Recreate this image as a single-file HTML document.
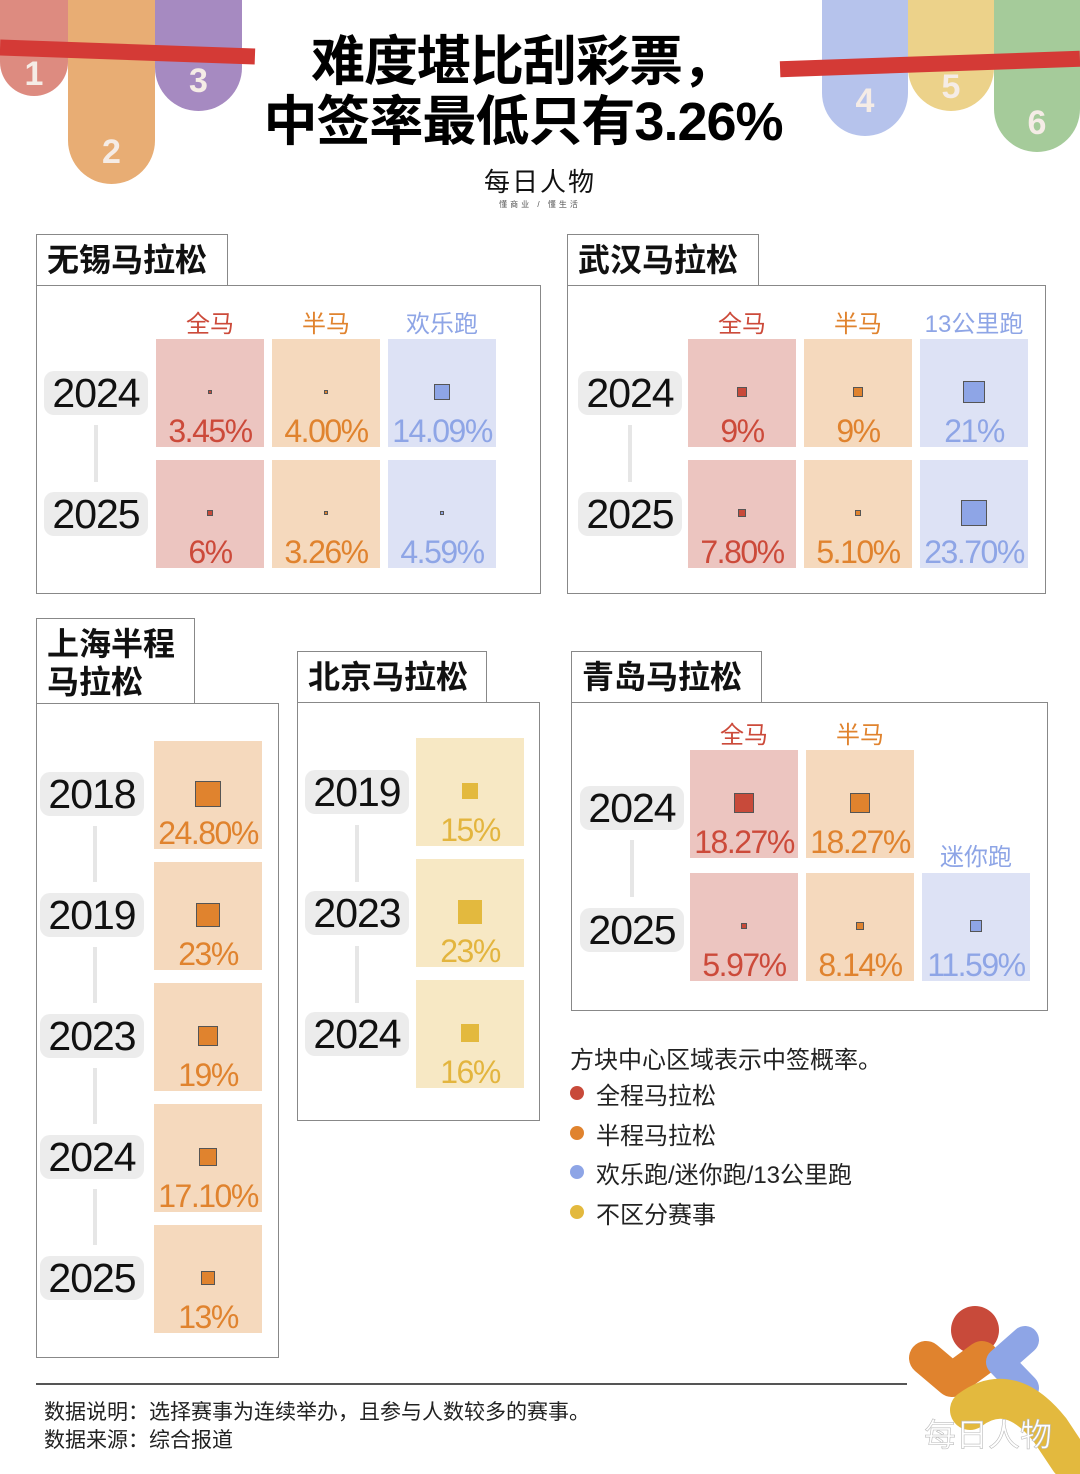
<!DOCTYPE html>
<html><head><meta charset="utf-8"><style>
*{margin:0;padding:0;box-sizing:border-box}
body{width:1080px;height:1474px;background:#fff;position:relative;overflow:hidden;font-family:"Liberation Sans","Noto Sans CJK SC",sans-serif}
.a{position:absolute}
.tbox{position:absolute;border:1.5px solid #888;border-bottom:none;background:#fff;font-weight:bold;font-size:32px;line-height:38px;padding:6px 10px;color:#111}
.panel{position:absolute;border:1.5px solid #888}
.cell{position:absolute;width:108px;height:108px}
.pct{position:absolute;left:-8px;right:-8px;bottom:0px;text-align:center;font-size:32px;line-height:32px;letter-spacing:-1.5px}
.mk{position:absolute}
.yr{position:absolute;width:104px;height:44px;margin-left:-52px;margin-top:-22px;background:#ececec;border-radius:10px;font-size:41px;line-height:44px;text-align:center;color:#111;letter-spacing:-1px}
.vl{position:absolute;width:4px;background:#e6e6e6;margin-left:-2px}
.hd{position:absolute;width:130px;margin-left:-11px;text-align:center;font-size:24px;line-height:26px}
.stripe{position:absolute;border-radius:0 0 50px 50px}
.num{position:absolute;color:#f5ece6;font-weight:bold;font-size:34px;text-align:center;width:100%}
.lg{position:absolute;left:570px;font-size:24px;color:#222}
.dot{position:absolute;width:14px;height:14px;border-radius:50%}
</style></head><body>
<div class="stripe" style="left:0;top:0;width:68px;height:96px;background:#dd8b80"><div class="num" style="top:55px">1</div></div>
<div class="stripe" style="left:68px;top:0;width:87px;height:184px;background:#e8ad74;border-radius:0 0 44px 44px"><div class="num" style="top:133px">2</div></div>
<div class="stripe" style="left:155px;top:0;width:87px;height:111px;background:#a68ac1;border-radius:0 0 44px 44px"><div class="num" style="top:62px">3</div></div>
<div class="a" style="left:0;top:44px;width:255px;height:16px;background:#d43a36;transform:rotate(2deg)"></div>
<div class="stripe" style="left:822px;top:0;width:86px;height:136px;background:#b6c3ec;border-radius:0 0 43px 43px"><div class="num" style="top:82px">4</div></div>
<div class="stripe" style="left:908px;top:0;width:86px;height:111px;background:#ecd28a;border-radius:0 0 43px 43px"><div class="num" style="top:68px">5</div></div>
<div class="stripe" style="left:994px;top:0;width:86px;height:152px;background:#a5cb9a;border-radius:0 0 43px 43px"><div class="num" style="top:104px">6</div></div>
<div class="a" style="left:780px;top:56px;width:300px;height:16px;background:#d43a36;transform:rotate(-2deg)"></div>
<div class="a" style="left:180px;top:32px;width:686px;text-align:center;font-weight:bold;font-size:54px;line-height:60px;color:#000;letter-spacing:-1px">难度堪比刮彩票，<br>中签率最低只有3.26%</div>
<div class="a" style="left:440px;top:162px;width:200px;text-align:center;font-size:26px;color:#111;letter-spacing:2px">每日人物</div>
<div class="a" style="left:440px;top:199px;width:200px;text-align:center;font-size:8px;color:#555;letter-spacing:3px">懂商业 / 懂生活</div>
<div id="root"></div>
<div class="lg" style="top:1040px">方块中心区域表示中签概率。</div>
<div class="dot" style="left:570px;top:1086px;background:#c84a3a"></div><div class="lg" style="left:596px;top:1076px">全程马拉松</div>
<div class="dot" style="left:570px;top:1126px;background:#e0832e"></div><div class="lg" style="left:596px;top:1116px">半程马拉松</div>
<div class="dot" style="left:570px;top:1165px;background:#8ea5e6"></div><div class="lg" style="left:596px;top:1155px">欢乐跑/迷你跑/13公里跑</div>
<div class="dot" style="left:570px;top:1205px;background:#e3b93e"></div><div class="lg" style="left:596px;top:1195px">不区分赛事</div>
<div class="a" style="left:36px;top:1383px;width:871px;height:2px;background:#555"></div>
<div class="a" style="left:44px;top:1399px;font-size:21px;line-height:28px;color:#222">数据说明：选择赛事为连续举办，且参与人数较多的赛事。<br>数据来源：综合报道</div>
<svg class="a" style="left:900px;top:1300px" width="180" height="174">
<circle cx="75" cy="30" r="24" fill="#c84a3a"/>
<path d="M26 58 L52 80 L82 58" stroke="#e0832e" stroke-width="34" fill="none" stroke-linecap="round" stroke-linejoin="round"/>
<path d="M125 40 L100 62 L125 88" stroke="#8ea5e6" stroke-width="28" fill="none" stroke-linecap="round" stroke-linejoin="round"/>
<path d="M70 110 Q110 80 150 130 L170 160" stroke="#e3b93e" stroke-width="40" fill="none" stroke-linecap="round"/>
<text x="24" y="146" font-size="32" fill="#fff" stroke="#bbb" stroke-width="0.6" font-family="Liberation Sans,Noto Sans CJK SC,sans-serif">每日人物</text>
</svg>
<script>
// data
const wuxiCats=["全马","半马","欢乐跑"];
const wuxiYears=["2024","2025"];
const wuxiValues=[[3.45,4.00,14.09],[6,3.26,4.59]];
const wuxiLabels=[["3.45%","4.00%","14.09%"],["6%","3.26%","4.59%"]];
const wuhanCats=["全马","半马","13公里跑"];
const wuhanYears=["2024","2025"];
const wuhanValues=[[9,9,21],[7.80,5.10,23.70]];
const wuhanLabels=[["9%","9%","21%"],["7.80%","5.10%","23.70%"]];
const shYears=["2018","2019","2023","2024","2025"];
const shValues=[24.80,23,19,17.10,13];
const shLabels=["24.80%","23%","19%","17.10%","13%"];
const bjYears=["2019","2023","2024"];
const bjValues=[15,23,16];
const bjLabels=["15%","23%","16%"];
const qdYears=["2024","2025"];
const qdValues=[[18.27,18.27,null],[5.97,8.14,11.59]];
const qdLabels=[["18.27%","18.27%",""],["5.97%","8.14%","11.59%"]];

const K={r:["#ecc5c0","#c84a3a","#cc4a3a",true],o:["#f5d9bd","#e0832e","#e0832e",true],b:["#dde2f5","#8ea5e6","#8ea5e6",true],y:["#f7e8c4","#e3b93e","#e3b53e",false]};
const root=document.getElementById('root');
function el(cls,style,txt){const d=document.createElement('div');d.className=cls;d.style.cssText=style;if(txt!==undefined)d.textContent=txt;root.appendChild(d);return d;}
function size(v){return v*1.08;}
function cell(x,y,v,lab,c){
 const k=K[c];
 const d=el('cell',`left:${x}px;top:${y}px;background:${k[0]}`);
 
 
 const s=size(v);
 const m=document.createElement('div');m.className='mk';
 m.style.cssText=`left:${54-s/2}px;top:${53-s/2}px;width:${s}px;height:${s}px;background:${k[1]};${k[3]?'border:1px solid #555':''}`;
 
 
 d.appendChild(m);
 const p=document.createElement('div');p.className='pct';p.style.color=k[2];p.textContent=lab;
 
 
 d.appendChild(p);
}
function year(cx,cy,t){const d=el('yr',`left:${cx}px;top:${cy}px`,t);
 
 }
function vline(cx,y1,y2){const d=el('vl',`left:${cx}px;top:${y1}px;height:${y2-y1}px`);
 
 }
function title(x,y,w,h,t,name){const d=el('tbox',`left:${x}px;top:${y}px;width:${w}px;height:${h}px`);d.innerHTML=t;
 
 }
function panel(x,y,w,h,name){const d=el('panel',`left:${x}px;top:${y}px;width:${w}px;height:${h}px`);
 
 }
function head(x,y,t,c){const d=el('hd',`left:${x}px;top:${y}px;color:${K[c][2]}`,t);
 
 }
const cols=['r','o','b'];
// Wuxi
title(36,234,192,52,'无锡马拉松','wuxi-title');panel(36,285,505,309,'wuxi-panel');
wuxiCats.forEach((c,i)=>head(156+116*i,312,c,cols[i]));
wuxiYears.forEach((yr,r)=>{year(96,393+121*r,yr);wuxiValues[r].forEach((v,i)=>cell(156+116*i,339+121*r,v,wuxiLabels[r][i],cols[i]));});
vline(96,425,482);
// Wuhan
title(567,234,192,52,'武汉马拉松','wuhan-title');panel(567,285,479,309,'wuhan-panel');
wuhanCats.forEach((c,i)=>head(688+116*i,312,c,cols[i]));
wuhanYears.forEach((yr,r)=>{year(630,393+121*r,yr);wuhanValues[r].forEach((v,i)=>cell(688+116*i,339+121*r,v,wuhanLabels[r][i],cols[i]));});
vline(630,425,482);
// Shanghai
title(36,618,159,86,'上海半程<br>马拉松','shanghai-title');panel(36,703,243,655,'shanghai-panel');
shYears.forEach((yr,r)=>{year(92,794+121*r,yr);cell(154,741+121*r,shValues[r],shLabels[r],'o');if(r<shYears.length-1)vline(95,826+121*r,882+121*r);});
// Beijing
title(297,651,190,52,'北京马拉松','beijing-title');panel(297,702,243,419,'beijing-panel');
bjYears.forEach((yr,r)=>{year(357,792+121*r,yr);cell(416,738+121*r,bjValues[r],bjLabels[r],'y');if(r<bjYears.length-1)vline(357,825+121*r,882+121*r);});
// Qingdao
title(571,651,191,52,'青岛马拉松','qingdao-title');panel(571,702,477,309,'qingdao-panel');
head(690,723,'全马','r');head(806,723,'半马','o');head(922,845,'迷你跑','b');
qdYears.forEach((yr,r)=>{year(632,808+122*r,yr);qdValues[r].forEach((v,i)=>{if(v!==null)cell(690+116*i,750+123*r,v,qdLabels[r][i],cols[i]);});});
vline(632,840,897);
</script>
</body></html>
